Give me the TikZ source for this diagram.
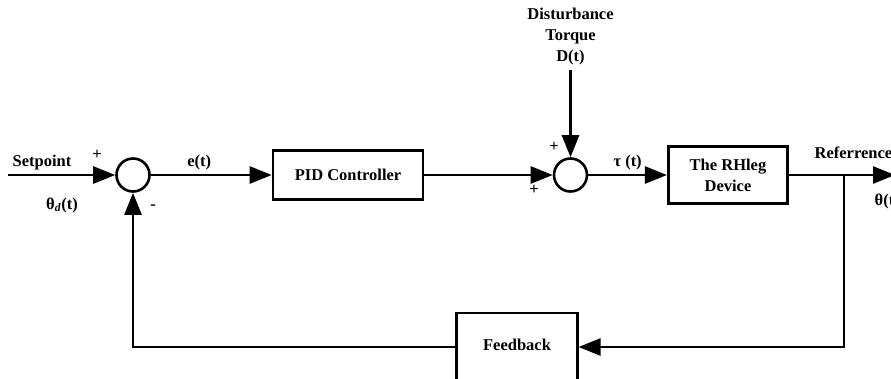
\documentclass[tikz,border=0pt]{standalone}
\usepackage{fontspec}
\setmainfont{Liberation Serif}
\usetikzlibrary{positioning,arrows.meta}

\begin{document}
\begin{tikzpicture}[x=1pt,y=-1pt,on grid,line width=2.6pt,
   >={Triangle[length=22pt,width=17pt]},
   font=\fontsize{16.5}{21}\selectfont\bfseries,
   block/.style={draw,rectangle,inner sep=0pt,align=center},
   sum/.style={draw,circle,minimum size=33pt,inner sep=0pt}]
   \useasboundingbox (0,0) rectangle (891,378);

   \node[sum] (s1) at (133,175) {};
   \node[block,minimum width=150pt,minimum height=49pt] (pid) [right=215pt of s1] {PID Controller};
   \node[sum] (s2) [right=222.5pt of pid] {};
   \node[align=center] (dist) [above=138pt of s2] {Disturbance\\Torque\\D(t)};
   \node[block,minimum width=119.5pt,minimum height=57pt] (dev) [right=157.5pt of s2] {The RHleg\\Device};
   \node[block,minimum width=120.5pt,minimum height=68pt] (fb) at (517,347) {\raisebox{4pt}{Feedback}};

   \coordinate (in) at (8,175);
   \coordinate (out) at (895,175);
   \coordinate (br) at (844,175);

   % signs and signal names
   \node (sp) at (42,163) {Setpoint};
   \node (thd) at (62,205) {θ\textsubscript{\textit{d}}(t)};
   \node (p1) at (97,155) {+};
   \node (m1) at (153,207) {-};
   \node (p2) at (554,147) {+};
   \node (p3) at (534,190) {+};
   \node[anchor=west] (ref) at (810,153) {Referrence};
   \node[anchor=west] (th) at (870,201) {θ(t)};

   \draw[->] (in) -- (s1);
   \draw[->] (s1) -- node[above,pos=0.4] {e(t)} (pid);
   \draw[->] (pid) -- (s2);
   \draw[->] (dist) -- (s2);
   \draw[->] (s2) -- node[above] {τ (t)} (dev);
   \draw[->] (dev) -- (out);
   \draw[->] (br) |- (fb);
   \draw[->] (fb) -| (s1);
\end{tikzpicture}
\end{document}
